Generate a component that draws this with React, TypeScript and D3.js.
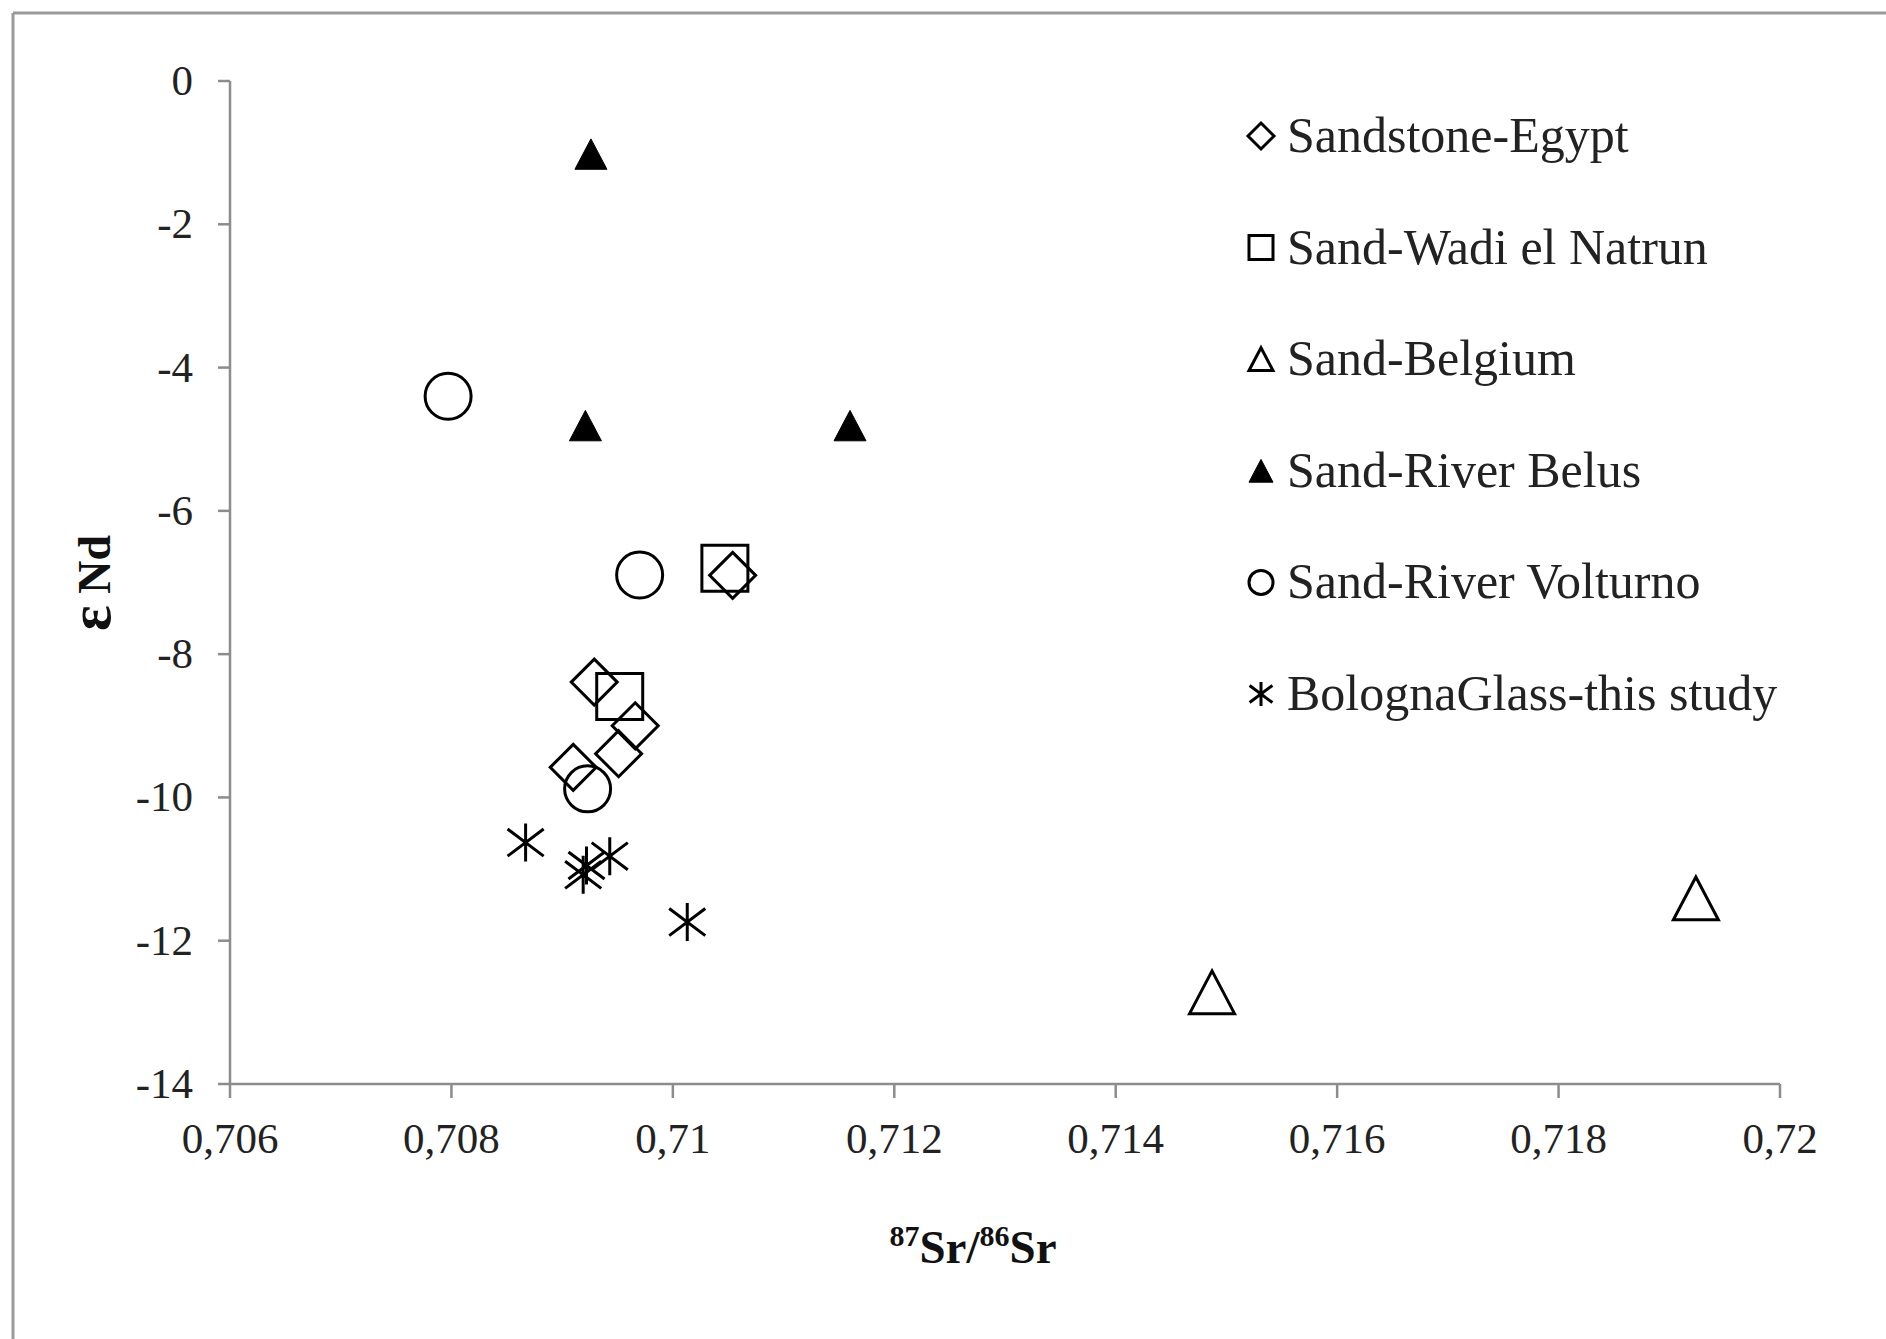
import React from "react";
import * as d3 from "d3";

// ---- data ----
const xTicks = [0.706, 0.708, 0.71, 0.712, 0.714, 0.716, 0.718, 0.72];
const yTicks = [0, -2, -4, -6, -8, -10, -12, -14];

const egyptX = [0.71054, 0.70929, 0.70966, 0.70951, 0.7091];
const egyptY = [-6.9, -8.39, -9.0, -9.39, -9.58];

const natrunX = [0.71047, 0.70952];
const natrunY = [-6.8, -8.59];

const belgiumX = [0.71487, 0.71924];
const belgiumY = [-12.72, -11.41];

const belusX = [0.70926, 0.70921, 0.7116];
const belusY = [-1.02, -4.81, -4.81];

const volturnoX = [0.70797, 0.7097, 0.70923];
const volturnoY = [-4.4, -6.895, -9.88];

const bolognaX = [0.70867, 0.70922, 0.70919, 0.70943, 0.71013];
const bolognaY = [-10.63, -10.95, -11.08, -10.82, -11.74];

const seriesNames = [
  "Sandstone-Egypt",
  "Sand-Wadi el Natrun",
  "Sand-Belgium",
  "Sand-River Belus",
  "Sand-River Volturno",
  "BolognaGlass-this study",
];
const seriesShapes = ["diamond", "square", "triangle", "triangleFilled", "circle", "star"];

// ---- layout ----
const W = 1886;
const H = 1339;
const FONT = "'Liberation Serif', 'Times New Roman', serif";

const xScale = d3.scaleLinear().domain([0.706, 0.72]).range([230, 1780]);
const yScale = d3.scaleLinear().domain([-14, 0]).range([1084, 81]);

function markerPath(shape: string, size: number): string {
  const p = d3.path();
  const h = size / 2;
  if (shape === "diamond") {
    p.moveTo(0, -h);
    p.lineTo(h, 0);
    p.lineTo(0, h);
    p.lineTo(-h, 0);
    p.closePath();
  } else if (shape === "square") {
    p.rect(-h, -h, size, size);
  } else if (shape === "triangle" || shape === "triangleFilled") {
    const hh = h * 0.95;
    p.moveTo(0, -hh);
    p.lineTo(h, hh);
    p.lineTo(-h, hh);
    p.closePath();
  } else if (shape === "circle") {
    p.arc(0, 0, h, 0, Math.PI * 2);
  } else if (shape === "star") {
    p.moveTo(0, -h);
    p.lineTo(0, h);
    const d = h * 0.95;
    p.moveTo(-d, -d * 0.75);
    p.lineTo(d, d * 0.75);
    p.moveTo(-d, d * 0.75);
    p.lineTo(d, -d * 0.75);
  }
  return p.toString();
}

function fmtX(v: number) {
  return String(+v.toFixed(3)).replace(".", ",");
}

type Series = { xs: number[]; ys: number[]; shape: string; size: number };

const plotSeries: Series[] = [
  { xs: egyptX, ys: egyptY, shape: "diamond", size: 46 },
  { xs: natrunX, ys: natrunY, shape: "square", size: 46 },
  { xs: belgiumX, ys: belgiumY, shape: "triangle", size: 45 },
  { xs: belusX, ys: belusY, shape: "triangleFilled", size: 32 },
  { xs: volturnoX, ys: volturnoY, shape: "circle", size: 46 },
  { xs: bolognaX, ys: bolognaY, shape: "star", size: 38 },
];

const legendX = 1261;
const legendY0 = 136;
const legendStep = 111.6;

export default function App() {
  const axisColor = "#8c8c8c";
  return (
    <svg
      width={W}
      height={H}
      style={{ position: "absolute", left: 0, top: 0, background: "#fff" }}
      fontFamily={FONT}
    >
      <rect x={0} y={0} width={W} height={H} fill="#fff" />
      {/* outer frame (top & left visible) */}
      <line x1={13} y1={13} x2={W} y2={13} stroke="#9a9a9a" strokeWidth={3} />
      <line x1={13} y1={13} x2={13} y2={H} stroke="#9a9a9a" strokeWidth={3} />

      {/* y axis */}
      <line x1={xScale(0.706)} y1={yScale(0)} x2={xScale(0.706)} y2={yScale(-14)} stroke={axisColor} strokeWidth={2.5} />
      {yTicks.map((t) => (
        <g key={"y" + t}>
          <line x1={xScale(0.706) - 12} x2={xScale(0.706)} y1={yScale(t)} y2={yScale(t)} stroke={axisColor} strokeWidth={2.5} />
          <text x={193} y={yScale(t) + 14} textAnchor="end" fontSize={43} fill="#222">
            {t === 0 ? "0" : "-" + Math.abs(t)}
          </text>
        </g>
      ))}

      {/* x axis */}
      <line x1={xScale(0.706)} y1={yScale(-14)} x2={xScale(0.72)} y2={yScale(-14)} stroke={axisColor} strokeWidth={2.5} />
      {xTicks.map((t) => (
        <g key={"x" + t}>
          <line x1={xScale(t)} x2={xScale(t)} y1={yScale(-14)} y2={yScale(-14) + 14} stroke={axisColor} strokeWidth={2.5} />
          <text x={xScale(t)} y={1153} textAnchor="middle" fontSize={43} fill="#222">
            {fmtX(t)}
          </text>
        </g>
      ))}

      {/* axis titles */}
      <text x={973} y={1263} textAnchor="middle" fontSize={47} fontWeight="bold" fill="#111">
        <tspan fontSize={30} dy={-17}>87</tspan>
        <tspan dy={17}>Sr/</tspan>
        <tspan fontSize={30} dy={-17}>86</tspan>
        <tspan dy={17}>Sr</tspan>
      </text>
      <text
        transform="translate(110,583) rotate(-90)"
        textAnchor="middle"
        fontSize={46}
        fontWeight="bold"
        fill="#111"
      >
        <tspan fontSize={60}>ε</tspan>
        <tspan> Nd</tspan>
      </text>

      {/* data */}
      {plotSeries.map((s, si) =>
        s.xs.map((xv, i) => (
          <path
            key={si + "-" + i}
            d={markerPath(s.shape, s.size)}
            transform={`translate(${xScale(xv)},${yScale(s.ys[i])})`}
            fill={s.shape === "triangleFilled" ? "#000" : "none"}
            stroke="#000"
            strokeWidth={s.shape === "triangleFilled" ? 1 : 3}
            strokeLinejoin="miter"
          />
        ))
      )}

      {/* legend */}
      {seriesNames.map((name, i) => {
        const cy = legendY0 + i * legendStep;
        const shape = seriesShapes[i];
        return (
          <g key={name}>
            <path
              d={markerPath(shape, shape === "diamond" ? 26 : 24)}
              transform={`translate(${legendX},${cy})`}
              fill={shape === "triangleFilled" ? "#000" : "none"}
              stroke="#000"
              strokeWidth={shape === "triangleFilled" ? 1 : 3}
            />
            <text x={1287} y={cy + 16} fontSize={50} fill="#222">
              {name}
            </text>
          </g>
        );
      })}
    </svg>
  );
}
